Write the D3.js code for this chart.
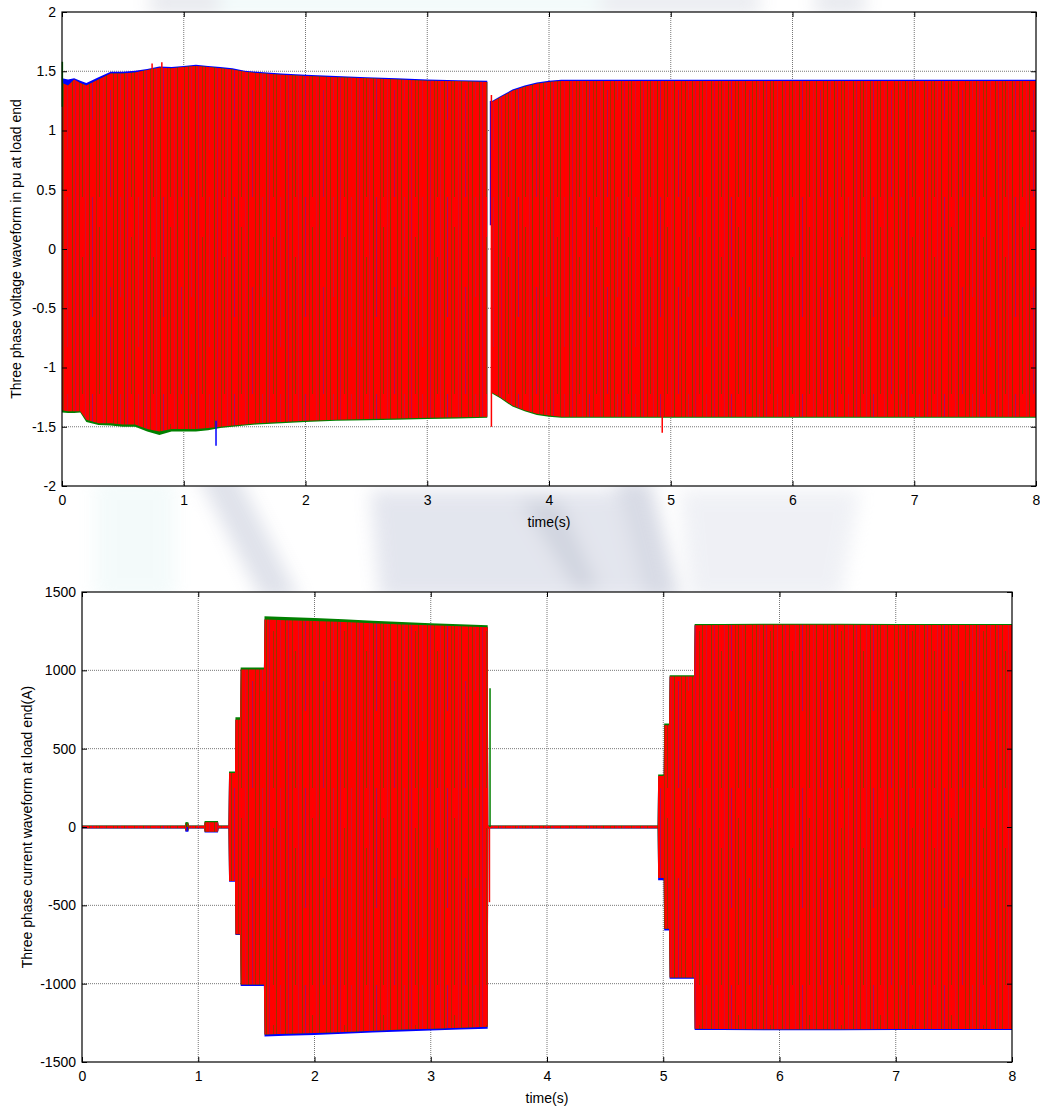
<!DOCTYPE html>
<html>
<head>
<meta charset="utf-8">
<script src="https://cdn.jsdelivr.net/npm/d3@7"></script>
<style>
  body { margin: 0; background: #fff; }
  text { font-family: Arial, "Liberation Sans", Helvetica, sans-serif; }
</style>
</head>
<body>
<svg id="fig" width="1040" height="1108"></svg>
<script>
// ---------- shared axis data ----------
const timeTicks = [0, 1, 2, 3, 4, 5, 6, 7, 8];
const timeTickLabels = ["0", "1", "2", "3", "4", "5", "6", "7", "8"];

// ---------- voltage (pu): envelope of the three phases ----------
const voltTime = [0, 0.05, 0.1, 0.15, 0.2, 0.3, 0.4, 0.5, 0.6, 0.7,
  0.8, 0.9, 1.0, 1.1, 1.2, 1.3, 1.4, 1.5, 1.6, 1.8,
  2.0, 2.25, 2.5, 2.75, 3.0, 3.25, 3.493, 3.51, 3.532, 3.6,
  3.7, 3.8, 3.9, 4.0, 4.1, 4.5, 5.0, 6.0, 7.0, 8.0];
const voltBlueTop = [1.44, 1.43, 1.44, 1.42, 1.40, 1.45, 1.495, 1.495, 1.505, 1.52,
  1.54, 1.535, 1.545, 1.555, 1.545, 1.535, 1.525, 1.505, 1.495, 1.48,
  1.47, 1.46, 1.45, 1.44, 1.43, 1.425, 1.42, null, 1.25, 1.29,
  1.345, 1.38, 1.405, 1.42, 1.428, 1.428, 1.428, 1.428, 1.428, 1.428];
const voltRedTop = [1.40, 1.38, 1.43, 1.40, 1.38, 1.43, 1.48, 1.48, 1.49, 1.51,
  1.53, 1.525, 1.535, 1.545, 1.535, 1.525, 1.515, 1.495, 1.485, 1.47,
  1.46, 1.45, 1.44, 1.43, 1.42, 1.415, 1.41, null, 1.24, 1.28,
  1.335, 1.37, 1.395, 1.41, 1.418, 1.418, 1.418, 1.418, 1.418, 1.418];
const voltRedBottom = [-1.36, -1.37, -1.37, -1.37, -1.44, -1.47, -1.47, -1.48, -1.48, -1.52,
  -1.54, -1.52, -1.52, -1.52, -1.51, -1.50, -1.49, -1.48, -1.47, -1.46,
  -1.45, -1.44, -1.435, -1.43, -1.425, -1.42, -1.415, null, -1.21, -1.25,
  -1.32, -1.36, -1.39, -1.405, -1.415, -1.415, -1.415, -1.415, -1.415, -1.415];
const voltGreenBottom = [-1.38, -1.385, -1.385, -1.38, -1.46, -1.485, -1.49, -1.50, -1.50, -1.54,
  -1.57, -1.54, -1.54, -1.54, -1.53, -1.51, -1.50, -1.49, -1.48, -1.47,
  -1.46, -1.45, -1.445, -1.44, -1.435, -1.43, -1.425, null, -1.22, -1.26,
  -1.33, -1.37, -1.40, -1.415, -1.425, -1.425, -1.425, -1.425, -1.425, -1.425];
// isolated transients (time, start value, end value, phase)
const voltSpikeTime = [0.003, 0.74, 0.82, 1.265, 3.52, 3.527, 4.93];
const voltSpikeFrom = [1.20, 1.45, 1.45, -1.45, 1.25, 1.30, -1.40];
const voltSpikeTo = [1.58, 1.565, 1.575, -1.66, 0.20, -1.50, -1.55];
const voltSpikePhase = ["green", "red", "red", "blue", "blue", "red", "red"];
const voltTicks = [-2, -1.5, -1, -0.5, 0, 0.5, 1, 1.5, 2];
const voltTickLabels = ["-2", "-1.5", "-1", "-0.5", "0", "0.5", "1", "1.5", "2"];

// ---------- current (A): envelope of the three phases ----------
const curTime = [0, 0.885, 0.89, 0.915, 0.92, 1.05, 1.055, 1.17, 1.175, 1.26,
  1.265, 1.316, 1.32, 1.36, 1.365, 1.565, 1.57, 1.75, 2.0, 2.25,
  2.5, 2.75, 3.0, 3.25, 3.49, 3.495, 4.952, 4.956, 5.004, 5.008,
  5.05, 5.055, 5.265, 5.27, 5.5, 6.0, 6.5, 7.0, 7.5, 8.0];
const curRedAmp = [8, 8, 22, 22, 8, 8, 30, 30, 8, 8,
  345, 345, 685, 685, 1005, 1005, 1325, 1320, 1315, 1308,
  1300, 1293, 1287, 1281, 1275, 8, 8, 325, 325, 650,
  650, 960, 960, 1288, 1290, 1291, 1291, 1290, 1290, 1289];
const curGreenTop = [10, 10, 30, 30, 10, 10, 38, 38, 10, 10,
  355, 355, 700, 700, 1018, 1018, 1345, 1340, 1334, 1326,
  1317, 1308, 1301, 1294, 1287, 10, 10, 335, 335, 660,
  660, 968, 968, 1295, 1296, 1297, 1297, 1296, 1296, 1295];
const curBlueBottom = [-10, -10, -30, -30, -10, -10, -35, -35, -10, -10,
  -350, -350, -690, -690, -1015, -1015, -1337, -1332, -1327, -1320,
  -1312, -1305, -1299, -1293, -1287, -10, -10, -340, -340, -660,
  -660, -968, -968, -1295, -1296, -1297, -1297, -1296, -1296, -1295];
const curSpikeTime = [0.9, 0.905, 3.51, 3.505];
const curSpikeFrom = [0, 0, 0, 0];
const curSpikeTo = [30, -25, 885, -480];
const curSpikePhase = ["green", "blue", "green", "red"];
const curTicks = [-1500, -1000, -500, 0, 500, 1000, 1500];
const curTickLabels = ["-1500", "-1000", "-500", "0", "500", "1000", "1500"];

const phaseColor = { blue: "#0000ff", green: "#008000", red: "#ff0000" };

const svg = d3.select("#fig");
const defs = svg.append("defs");

// soft background emblem
defs.append("filter").attr("id", "soft")
  .attr("x", "-30%").attr("y", "-30%").attr("width", "160%").attr("height", "160%")
  .append("feGaussianBlur").attr("stdDeviation", 9);

// texture for the densely packed red phase (cycles of the other phases showing through)
const tileW = 71, tileH = 197;
const pat = defs.append("pattern").attr("id", "streaks")
  .attr("patternUnits", "userSpaceOnUse").attr("width", tileW).attr("height", tileH);
pat.append("rect").attr("width", tileW).attr("height", tileH).attr("fill", phaseColor.red);
const olive = "#2f6a00", violet = "#4a22c0", plum = "#8a2a70";
const streaks = [
  [1, 0, 197, olive, 0.55], [4, 0, 197, violet, 0.35], [8, 0, 197, olive, 0.45],
  [11, 60, 197, olive, 0.5], [14, 0, 197, plum, 0.4], [18, 0, 197, olive, 0.55],
  [21, 0, 120, violet, 0.5], [25, 0, 197, olive, 0.4], [28, 30, 197, olive, 0.5],
  [32, 0, 197, plum, 0.35], [35, 0, 197, olive, 0.55], [39, 90, 197, violet, 0.45],
  [42, 0, 197, olive, 0.45], [46, 0, 197, olive, 0.5], [49, 0, 100, plum, 0.45],
  [53, 0, 197, olive, 0.55], [56, 0, 197, violet, 0.35], [60, 40, 197, olive, 0.45],
  [63, 0, 197, olive, 0.5], [67, 0, 150, plum, 0.4]
];
streaks.forEach(s => pat.append("rect").attr("x", s[0]).attr("y", s[1])
  .attr("width", 1).attr("height", s[2] - s[1]).attr("fill", s[3]).attr("fill-opacity", s[4]));

const bg = svg.append("g").attr("filter", "url(#soft)").attr("opacity", 0.45);
bg.append("path").attr("d", "M95,478 L175,478 L175,600 L95,600 Z").attr("fill", "#e6f6f6");
bg.append("path").attr("d", "M195,470 L235,470 L300,600 L262,600 Z").attr("fill", "#b9bfd2");
bg.append("path").attr("d", "M370,490 L640,490 L660,600 L380,600 Z").attr("fill", "#c3c8da");
bg.append("path").attr("d", "M520,500 L560,500 L600,590 L575,590 Z").attr("fill", "#9aa2ba");
bg.append("path").attr("d", "M615,480 L650,480 L680,600 L645,600 Z").attr("fill", "#a8afc6");
bg.append("path").attr("d", "M680,490 L860,490 L840,600 L690,600 Z").attr("fill", "#dde0ea");
bg.append("path").attr("d", "M220,-10 L680,-10 L680,14 L220,14 Z").attr("fill", "#dff4f4");
bg.append("path").attr("d", "M150,-10 L220,-10 L220,14 L150,14 Z").attr("fill", "#c8ccd8");
bg.append("path").attr("d", "M600,-10 L760,-10 L760,14 L600,14 Z").attr("fill", "#cfd3de");
bg.append("path").attr("d", "M815,-10 L865,-10 L865,14 L815,14 Z").attr("fill", "#c8ccd8");

function drawPanel(o) {
  const g = svg.append("g");
  const x = d3.scaleLinear().domain([0, 8]).range([o.left, o.right]);
  const y = d3.scaleLinear().domain([o.ticks[0], o.ticks[o.ticks.length - 1]]).range([o.bottom, o.top]);

  g.append("rect").attr("x", o.left).attr("y", o.top)
    .attr("width", o.right - o.left).attr("height", o.bottom - o.top).attr("fill", "#fff");

  // dotted grid
  g.append("g").selectAll("line").data(timeTicks.slice(1, -1)).join("line")
    .attr("x1", d => x(d)).attr("x2", d => x(d)).attr("y1", o.top).attr("y2", o.bottom)
    .attr("stroke", "#777").attr("stroke-dasharray", "1,1");
  g.append("g").selectAll("line").data(o.ticks.slice(1, -1)).join("line")
    .attr("x1", o.left).attr("x2", o.right).attr("y1", d => y(d)).attr("y2", d => y(d))
    .attr("stroke", "#777").attr("stroke-dasharray", "1,1");

  // envelope bands of the phases: blue, green, then red on top
  const rows = o.time.map((t, i) => ({
    t, rt: o.redTop[i], rb: o.redBottom[i],
    bt: o.blueTop ? o.blueTop[i] : o.redTop[i],
    bb: o.blueBottom ? o.blueBottom[i] : o.redBottom[i],
    gt: o.greenTop ? o.greenTop[i] : o.redTop[i],
    gb: o.greenBottom ? o.greenBottom[i] : o.redBottom[i]
  }));
  const band = (hi, lo) => d3.area().defined(d => d[hi] !== null)
    .x(d => x(d.t)).y0(d => y(d[lo])).y1(d => y(d[hi]));
  const plot = g.append("g");
  plot.append("path").datum(rows).attr("d", band("bt", "bb")).attr("fill", phaseColor.blue);
  plot.append("path").datum(rows).attr("d", band("gt", "gb")).attr("fill", phaseColor.green);
  plot.append("path").datum(rows).attr("d", band("rt", "rb")).attr("fill", "url(#streaks)");

  plot.selectAll("line.spike").data(o.spikeTime).join("line").attr("class", "spike")
    .attr("x1", d => x(d)).attr("x2", d => x(d))
    .attr("y1", (d, i) => y(o.spikeFrom[i])).attr("y2", (d, i) => y(o.spikeTo[i]))
    .attr("stroke", (d, i) => phaseColor[o.spikePhase[i]]).attr("stroke-width", 1.5);

  // axes with inward ticks on every side
  const ax = (gen, tx, ty) => g.append("g").attr("transform", `translate(${tx},${ty})`).call(gen)
    .call(s => s.select(".domain").remove())
    .call(s => s.selectAll("text").attr("font-size", 14).attr("fill", "#000"))
    .call(s => s.selectAll(".tick line").attr("stroke", "#000"));
  ax(d3.axisBottom(x).tickValues(timeTicks).tickFormat((d, i) => timeTickLabels[i]).tickSize(-5).tickPadding(9), 0, o.bottom);
  ax(d3.axisTop(x).tickValues(timeTicks).tickFormat("").tickSize(-5), 0, o.top);
  ax(d3.axisLeft(y).tickValues(o.ticks).tickFormat((d, i) => o.tickLabels[i]).tickSize(-5).tickPadding(6), o.left, 0);
  ax(d3.axisRight(y).tickValues(o.ticks).tickFormat("").tickSize(-5), o.right, 0);

  g.append("rect").attr("x", o.left).attr("y", o.top)
    .attr("width", o.right - o.left).attr("height", o.bottom - o.top)
    .attr("fill", "none").attr("stroke", "#000").attr("stroke-width", 1.2);

  g.append("text").attr("x", (o.left + o.right) / 2).attr("y", o.bottom + 41)
    .attr("text-anchor", "middle").attr("font-size", 14).text("time(s)");
  g.append("text").attr("transform", `translate(${o.yLabelX},${(o.top + o.bottom) / 2}) rotate(-90)`)
    .attr("text-anchor", "middle").attr("font-size", 14).text(o.yLabel);
}

drawPanel({
  left: 62, right: 1036, top: 12, bottom: 486,
  ticks: voltTicks, tickLabels: voltTickLabels,
  time: voltTime, redTop: voltRedTop, redBottom: voltRedBottom,
  blueTop: voltBlueTop, greenBottom: voltGreenBottom,
  spikeTime: voltSpikeTime, spikeFrom: voltSpikeFrom, spikeTo: voltSpikeTo, spikePhase: voltSpikePhase,
  yLabel: "Three phase voltage waveform in pu at load end", yLabelX: 21
});

drawPanel({
  left: 82, right: 1012, top: 592, bottom: 1062,
  ticks: curTicks, tickLabels: curTickLabels,
  time: curTime, redTop: curRedAmp, redBottom: curRedAmp.map(v => -v),
  greenTop: curGreenTop, blueBottom: curBlueBottom,
  spikeTime: curSpikeTime, spikeFrom: curSpikeFrom, spikeTo: curSpikeTo, spikePhase: curSpikePhase,
  yLabel: "Three phase current waveform at load end(A)", yLabelX: 32
});
</script>
</body>
</html>
